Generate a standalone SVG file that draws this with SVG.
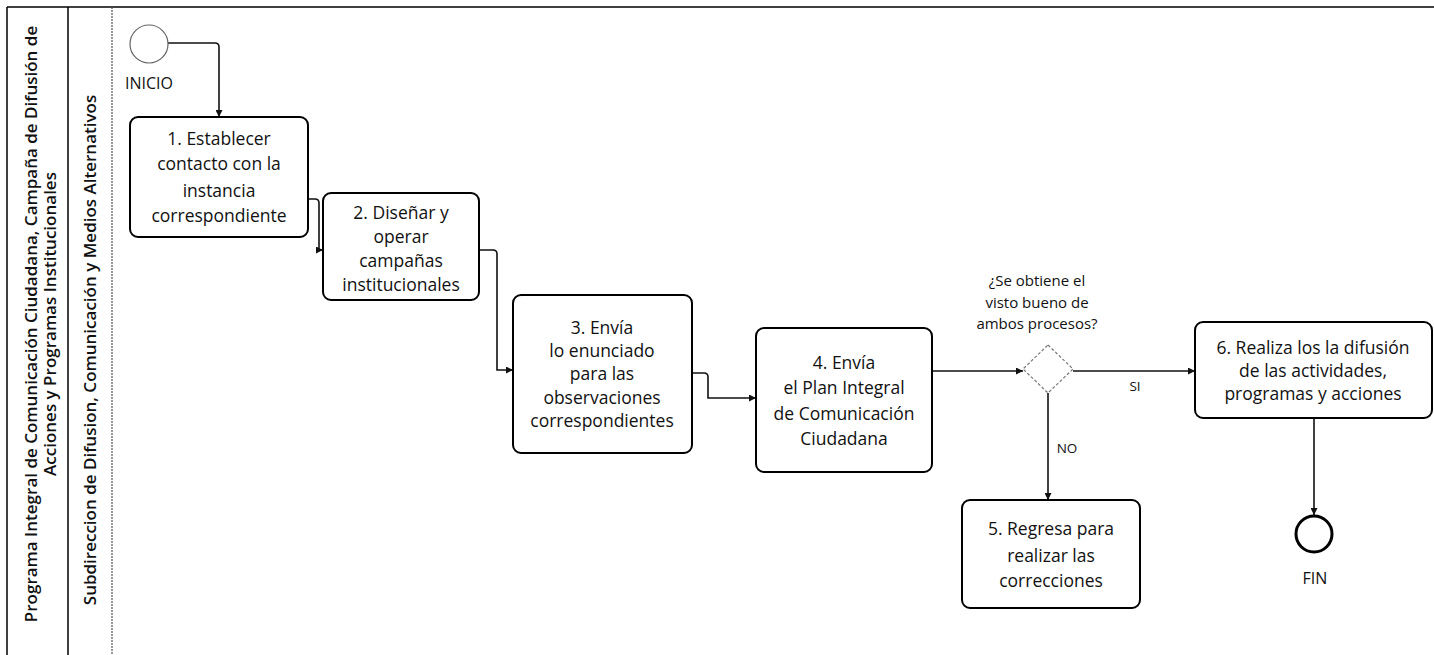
<svg xmlns="http://www.w3.org/2000/svg" width="1434" height="655" viewBox="0 0 1434 655">
<style>
  .bg { fill: #ffffff; }
  .lane { stroke: #000; stroke-width: 1.5; fill: none; }
  .lanedot { stroke: #555; stroke-width: 1.2; stroke-dasharray: 2 1; fill: none; }
  .lanetxt { font-family: "Open Sans", "Noto Sans", sans-serif; font-weight: 600; font-size: 17px; fill: #111; text-anchor: middle; dominant-baseline: central; }
  .box { fill: #fff; stroke: #000; stroke-width: 2; }
  .txt { font-family: "Open Sans", "Noto Sans", sans-serif; font-size: 17.5px; fill: #111; text-anchor: middle; dominant-baseline: central; }
  .small { font-family: "Open Sans", "Noto Sans", sans-serif; font-size: 15px; fill: #111; text-anchor: middle; dominant-baseline: central; }
  .lbl { font-family: "Open Sans", "Noto Sans", sans-serif; font-size: 13.5px; fill: #111; text-anchor: middle; dominant-baseline: central; }
  .conn { fill: none; stroke: #111; stroke-width: 1.6; marker-end: url(#arr); }
  .gw { fill: #fff; stroke: #777; stroke-width: 1.2; stroke-dasharray: 3 2; }
</style>
<defs>
  <marker id="arr" viewBox="0 0 10 10" refX="10" refY="5" markerWidth="7" markerHeight="7" markerUnits="userSpaceOnUse" orient="auto">
    <path d="M0,0 L10,5 L0,10 z" fill="#111"/>
  </marker>
</defs>
<rect class="bg" x="0" y="0" width="1434" height="655"/>

<g id="pool">
  <line class="lane" x1="7" y1="7" x2="1434" y2="7"/>
  <line class="lane" x1="7" y1="7" x2="7" y2="655"/>
  <line class="lane" x1="68" y1="7" x2="68" y2="655"/>
  <line class="lanedot" x1="112" y1="7" x2="112" y2="655"/>
  <text class="lanetxt" transform="translate(30,324) rotate(-90)">Programa Integral de Comunicación Ciudadana, Campaña de Difusión de</text>
  <text class="lanetxt" transform="translate(49,324) rotate(-90)">Acciones y Programas Institucionales</text>
  <text class="lanetxt" transform="translate(89,350) rotate(-90)">Subdireccion de Difusion, Comunicación y Medios Alternativos</text>
</g>

<g id="connectors">
  <path class="conn" d="M168,43 H215 Q219,43 219,47 V117"/>
  <path class="conn" d="M308,199 H315 Q319,199 319,203 V250 H323"/>
  <path class="conn" d="M479,250 H493 Q497,250 497,254 V370 H513"/>
  <path class="conn" d="M692,373 H704 Q708,373 708,377 V398 H756"/>
  <path class="conn" d="M932,371 H1023"/>
  <path class="conn" d="M1073,371 H1195"/>
  <path class="conn" d="M1048,393 V500"/>
  <path class="conn" d="M1314,418 V515"/>
  <text class="lbl" x="1135" y="386">SI</text>
  <text class="lbl" x="1067" y="448">NO</text>
</g>

<g id="inicio">
  <circle cx="149" cy="44" r="19" fill="#fff" stroke="#666" stroke-width="1.2"/>
  <text class="txt" x="149" y="83" style="font-size:16px">INICIO</text>
</g>

<g id="n1">
  <rect class="box" x="130" y="117" width="178" height="120" rx="8"/>
  <text class="txt" x="219" y="138">1. Establecer</text>
  <text class="txt" x="219" y="163">contacto con la</text>
  <text class="txt" x="219" y="190">instancia</text>
  <text class="txt" x="219" y="215">correspondiente</text>
</g>

<g id="n2">
  <rect class="box" x="323" y="193" width="156" height="107" rx="8"/>
  <text class="txt" x="401" y="212">2. Diseñar y</text>
  <text class="txt" x="401" y="236">operar</text>
  <text class="txt" x="401" y="260">campañas</text>
  <text class="txt" x="401" y="284">institucionales</text>
</g>

<g id="n3">
  <rect class="box" x="513" y="295" width="179" height="158" rx="8"/>
  <text class="txt" x="602" y="327">3. Envía</text>
  <text class="txt" x="602" y="350">lo enunciado</text>
  <text class="txt" x="602" y="373">para las</text>
  <text class="txt" x="602" y="397">observaciones</text>
  <text class="txt" x="602" y="420">correspondientes</text>
</g>

<g id="n4">
  <rect class="box" x="756" y="328" width="176" height="144" rx="8"/>
  <text class="txt" x="844" y="362">4. Envía</text>
  <text class="txt" x="844" y="387">el Plan Integral</text>
  <text class="txt" x="844" y="413">de Comunicación</text>
  <text class="txt" x="844" y="438">Ciudadana</text>
</g>

<g id="gateway">
  <path class="gw" d="M1048,345 L1073,369 L1048,393 L1023,369 z"/>
  <text class="small" x="1037" y="280">¿Se obtiene el</text>
  <text class="small" x="1037" y="302">visto bueno de</text>
  <text class="small" x="1037" y="323">ambos procesos?</text>
</g>

<g id="n5">
  <rect class="box" x="962" y="500" width="178" height="108" rx="8"/>
  <text class="txt" x="1051" y="528">5. Regresa para</text>
  <text class="txt" x="1051" y="555">realizar las</text>
  <text class="txt" x="1051" y="580">correcciones</text>
</g>

<g id="n6">
  <rect class="box" x="1195" y="322" width="237" height="96" rx="8"/>
  <text class="txt" x="1313" y="347">6. Realiza los la difusión</text>
  <text class="txt" x="1313" y="370">de las actividades,</text>
  <text class="txt" x="1313" y="393">programas y acciones</text>
</g>

<g id="fin">
  <circle cx="1314" cy="534" r="18" fill="#fff" stroke="#000" stroke-width="3"/>
  <text class="txt" x="1315" y="578" style="font-size:16px">FIN</text>
</g>
</svg>
